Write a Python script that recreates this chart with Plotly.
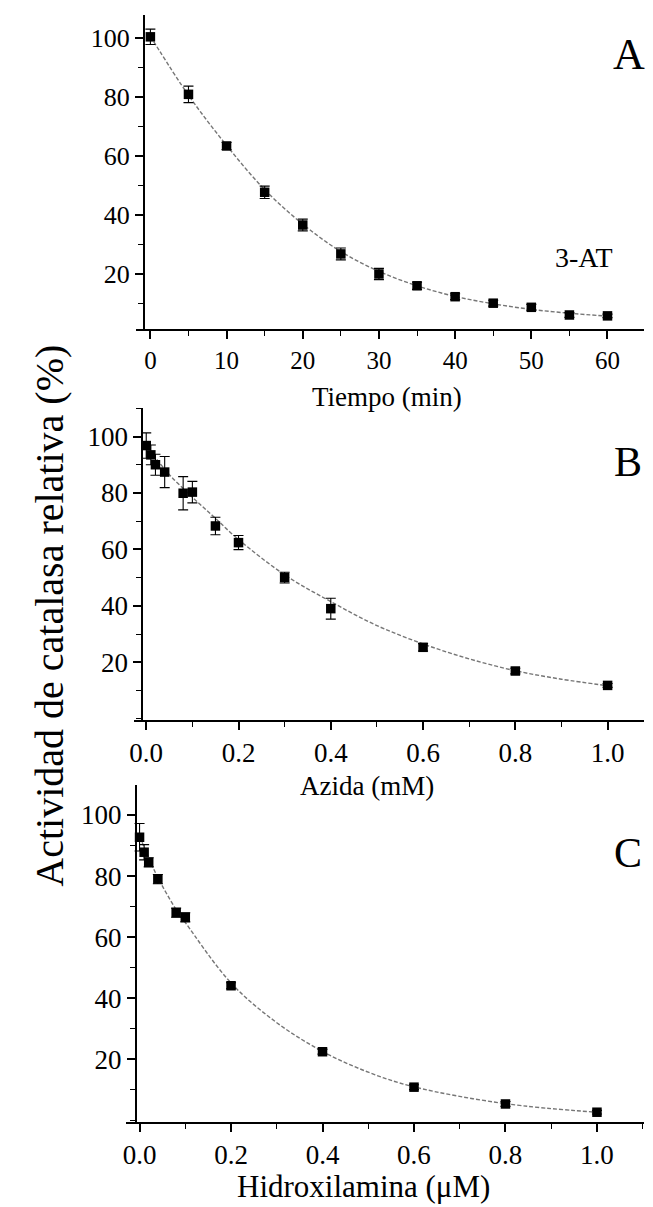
import plotly.graph_objects as go

# ---------------- data ----------------
# Panel A: 3-AT, time course
a_x = [0, 5, 10, 15, 20, 25, 30, 35, 40, 45, 50, 55, 60]
a_y = [100.3, 80.8, 63.3, 47.6, 36.5, 26.7, 19.9, 15.9, 12.2, 10.0, 8.6, 6.0, 5.7]
a_err = [2.6, 2.8, 1.2, 2.1, 2.0, 2.0, 1.9, 1.2, 1.0, 1.0, 1.0, 0.8, 0.6]
a_fit_x = [0, 5, 10, 15, 20, 25, 30, 35, 40, 45, 50, 55, 60]
a_fit_y = [100.5, 80.5, 63.5, 48.5, 36.8, 27.5, 20.8, 15.9, 12.3, 9.8, 7.9, 6.6, 5.6]

# Panel B: Azida
b_x = [0, 0.01, 0.02, 0.04, 0.08, 0.1, 0.15, 0.2, 0.3, 0.4, 0.6, 0.8, 1.0]
b_y = [96.8, 93.5, 90.0, 87.4, 79.9, 80.3, 68.3, 62.4, 50.0, 39.0, 25.3, 16.9, 11.8]
b_err = [4.5, 3.5, 3.7, 5.5, 5.9, 3.8, 3.1, 2.5, 1.9, 3.7, 1.3, 1.0, 0.7]
b_fit_x = [0, 0.02, 0.05, 0.1, 0.15, 0.2, 0.3, 0.4, 0.5, 0.6, 0.7, 0.8, 0.9, 1.0]
b_fit_y = [97.0, 92.5, 86.5, 78.5, 71.0, 63.5, 51.0, 41.5, 33.0, 26.5, 21.2, 17.0, 14.0, 11.7]

# Panel C: Hidroxilamina
c_x = [0, 0.01, 0.02, 0.04, 0.08, 0.1, 0.2, 0.4, 0.6, 0.8, 1.0]
c_y = [92.7, 87.8, 84.5, 79.0, 68.0, 66.5, 44.1, 22.5, 10.9, 5.4, 2.7]
c_err = [4.5, 2.5, 1.5, 1.5, 1.5, 1.5, 1.0, 0.8, 0.8, 0.8, 0.6]
c_fit_x = [0, 0.02, 0.04, 0.08, 0.1, 0.2, 0.3, 0.4, 0.5, 0.6, 0.8, 1.0]
c_fit_y = [93.0, 86.0, 79.5, 69.0, 64.8, 45.0, 32.0, 22.6, 15.8, 11.0, 5.5, 2.7]

y_ticks = [20, 40, 60, 80, 100]
a_xticks = [0, 10, 20, 30, 40, 50, 60]
bc_xticks = [0.0, 0.2, 0.4, 0.6, 0.8, 1.0]
bc_xlabels = ["0.0", "0.2", "0.4", "0.6", "0.8", "1.0"]

panel_letters = ["A", "B", "C"]
x_titles = ["Tiempo (min)", "Azida (mM)", "Hidroxilamina (\u03bcM)"]
y_title = "Actividad de catalasa relativa (%)"
inset_label = "3-AT"

# ---------------- layout helpers ----------------
W, H = 653, 1207
FONT = "Liberation Serif, Times New Roman, serif"


def px_x(p):
    return p / W


def px_y(p):
    return 1 - p / H


fig = go.Figure()

panels = [
    dict(x=a_x, y=a_y, e=a_err, fx=a_fit_x, fy=a_fit_y, xa="x", ya="y"),
    dict(x=b_x, y=b_y, e=b_err, fx=b_fit_x, fy=b_fit_y, xa="x2", ya="y2"),
    dict(x=c_x, y=c_y, e=c_err, fx=c_fit_x, fy=c_fit_y, xa="x3", ya="y3"),
]

for p in panels:
    fig.add_trace(go.Scatter(
        x=p["fx"], y=p["fy"], mode="lines", line_shape="spline",
        line=dict(color="#767676", width=1.4, dash="4px,2px"),
        xaxis=p["xa"], yaxis=p["ya"], showlegend=False, hoverinfo="skip"))
    fig.add_trace(go.Scatter(
        x=p["x"], y=p["y"], mode="markers",
        marker=dict(symbol="square", size=9.5, color="black"),
        error_y=dict(type="data", array=p["e"], visible=True,
                     color="black", thickness=1.1, width=5),
        xaxis=p["xa"], yaxis=p["ya"], showlegend=False, cliponaxis=False))


def axis(size, **kw):
    d = dict(showline=True, linecolor="black", linewidth=1.8,
             ticks="outside", ticklen=8, tickwidth=1.6, tickcolor="black",
             showgrid=False, zeroline=False, mirror=False,
             tickfont=dict(family=FONT, color="black", size=size))
    d.update(kw)
    return d


def minor(dt):
    return dict(dtick=dt, tick0=0, ticks="outside", ticklen=5,
                tickcolor="black", tickwidth=1.4)


# domains (pixel measured); x-axis line starts a little left of the y-axis
dom = {
    "A": dict(x=[px_x(132), px_x(644)], y=[px_y(329), px_y(15)], ypos=px_x(140)),
    "B": dict(x=[px_x(130), px_x(644)], y=[px_y(720), px_y(408.3)], ypos=px_x(138.3)),
    "C": dict(x=[px_x(122), px_x(644)], y=[px_y(1122), px_y(785)], ypos=px_x(131.7)),
}

fig.update_layout(
    width=W, height=H, margin=dict(l=0, r=0, t=0, b=0),
    paper_bgcolor="white", plot_bgcolor="white",
    font=dict(family=FONT, color="black"),
    xaxis=axis(25, domain=dom["A"]["x"], anchor="y", range=[-1.89, 64.8],
               tickvals=a_xticks, minor=minor(5)),
    yaxis=axis(26, domain=dom["A"]["y"], anchor="free", position=dom["A"]["ypos"],
               range=[1.25, 107.7], tickvals=y_ticks, minor=minor(10)),
    xaxis2=axis(27, domain=dom["B"]["x"], anchor="y2", range=[-0.0265, 1.079],
                tickvals=bc_xticks, ticktext=bc_xlabels, minor=minor(0.1)),
    yaxis2=axis(27, domain=dom["B"]["y"], anchor="free", position=dom["B"]["ypos"],
                range=[-0.46, 110], tickvals=y_ticks, minor=minor(10)),
    xaxis3=axis(27, domain=dom["C"]["x"], anchor="y3", range=[-0.0295, 1.103],
                tickvals=bc_xticks, ticktext=bc_xlabels, minor=minor(0.1)),
    yaxis3=axis(27, domain=dom["C"]["y"], anchor="free", position=dom["C"]["ypos"],
                range=[-0.5, 109.8], tickvals=y_ticks, minor=minor(10)),
)

ann = []
# panel letters
for letter, (cx, cy), size in zip(panel_letters, [(629, 54), (628, 462), (628, 853)], [44, 42, 42]):
    ann.append(dict(text=letter, x=px_x(cx), y=px_y(cy), xref="paper", yref="paper",
                    xanchor="center", yanchor="middle", showarrow=False,
                    font=dict(family=FONT, size=size, color="black")))
# 3-AT label
ann.append(dict(text=inset_label, x=px_x(583), y=px_y(257), xref="paper", yref="paper",
                xanchor="center", yanchor="middle", showarrow=False,
                font=dict(family=FONT, size=28, color="black")))
# x-axis titles
for t, (cx, cy), size in zip(x_titles, [(385, 397), (365, 786), (361, 1186)], [27, 27, 31]):
    ann.append(dict(text=t, x=px_x(cx), y=px_y(cy), xref="paper", yref="paper",
                    xanchor="center", yanchor="middle", showarrow=False,
                    font=dict(family=FONT, size=size, color="black")))
# global y title
ann.append(dict(text=y_title, x=px_x(44), y=px_y(616), xref="paper", yref="paper",
                xanchor="center", yanchor="middle", showarrow=False, textangle=-90,
                font=dict(family=FONT, size=40, color="black")))
fig.update_layout(annotations=ann)

fig.write_html("out.html")
